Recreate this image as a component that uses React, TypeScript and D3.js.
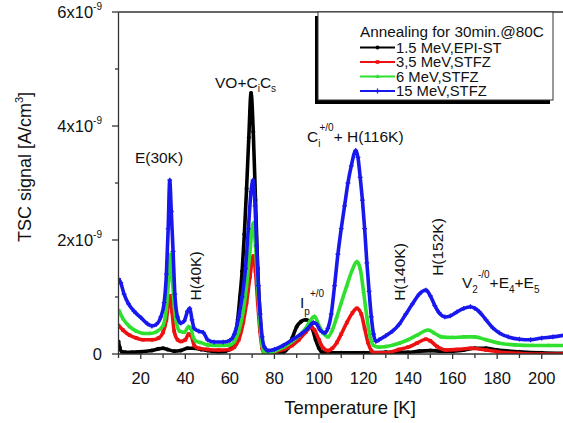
import React from "react";
import * as d3 from "d3";

const W = 563;
const H = 423;

const blackT = [10, 10.5, 11.5, 13, 16, 20, 25, 28, 30, 32, 35, 38, 41, 44, 47, 50, 55, 58, 60, 61.5, 62.5, 63.5, 64.5, 65.5, 66.5, 67.5, 68.5, 69.5, 70.5, 71.5, 72.5, 73.5, 74.5, 75.5, 77, 80, 84, 86, 88, 90, 92, 94, 95.5, 97, 98.5, 100, 101.5, 104, 110, 120, 130, 140, 145, 150, 155, 160, 165, 170, 175, 180, 190, 200, 210];
const blackV = [0.22, 0.12, 0.04, 0.03, 0.03, 0.04, 0.06, 0.09, 0.1, 0.08, 0.05, 0.06, 0.1, 0.1, 0.08, 0.06, 0.04, 0.05, 0.08, 0.15, 0.3, 0.6, 1.0, 1.45, 2.1, 2.9, 3.8, 4.58, 3.9, 2.7, 1.5, 0.7, 0.2, 0.03, 0.01, 0.01, 0.03, 0.1, 0.28, 0.48, 0.57, 0.6, 0.58, 0.45, 0.25, 0.1, 0.03, 0.02, 0.02, 0.02, 0.03, 0.03, 0.05, 0.06, 0.05, 0.05, 0.07, 0.1, 0.1, 0.07, 0.04, 0.02, 0.01];

const redT = [10, 12, 15, 18, 21, 25, 28, 30, 31.5, 32.5, 33.2, 34, 35, 36.5, 38, 40, 41.5, 42.5, 44, 46, 50, 55, 60, 62, 64, 66, 67.5, 69, 70.5, 71.5, 72.5, 73.5, 74.5, 75.5, 77, 80, 84, 88, 91, 94, 96.5, 98, 100, 102, 104, 106, 108, 110, 112.5, 115, 117, 119, 120.5, 122, 123.5, 125, 130, 136, 140, 144, 148, 150, 153, 157, 162, 168, 175, 180, 185, 190, 200, 210];
const redV = [0.5, 0.42, 0.33, 0.28, 0.25, 0.25, 0.28, 0.38, 0.6, 0.9, 1.02, 0.75, 0.4, 0.25, 0.22, 0.25, 0.35, 0.33, 0.15, 0.1, 0.08, 0.07, 0.08, 0.12, 0.25, 0.55, 0.9, 1.35, 1.72, 1.45, 0.9, 0.4, 0.1, 0.01, 0.0, 0.03, 0.08, 0.15, 0.25, 0.38, 0.47, 0.42, 0.25, 0.1, 0.06, 0.1, 0.2, 0.35, 0.55, 0.72, 0.8, 0.7, 0.45, 0.2, 0.06, 0.02, 0.02, 0.08, 0.12, 0.19, 0.26, 0.23, 0.13, 0.07, 0.08, 0.1, 0.07, 0.04, 0.02, 0.01, 0.0, 0.0];

const greenT = [10, 12, 15, 18, 21, 24, 27, 30, 31.5, 32.5, 33.3, 34.2, 35, 36, 37.5, 39.5, 41.5, 42.5, 43.5, 45, 47, 50, 55, 60, 62, 64, 66, 67.5, 69, 70.5, 71.5, 72.5, 73.5, 74.5, 75.5, 77, 80, 84, 88, 91, 94, 96, 98, 100, 102, 104, 106, 108, 110, 112.5, 115, 117, 118.5, 120, 121.5, 123, 124.5, 127, 130, 136, 140, 144, 149, 152, 155, 160, 165, 170, 175, 181, 188, 196, 203, 210];
const greenV = [0.78, 0.62, 0.48, 0.4, 0.36, 0.36, 0.39, 0.5, 0.8, 1.3, 1.75, 1.3, 0.85, 0.55, 0.4, 0.38, 0.48, 0.45, 0.3, 0.22, 0.2, 0.16, 0.15, 0.16, 0.22, 0.4, 0.75, 1.2, 1.8, 2.3, 1.9, 1.2, 0.55, 0.15, 0.03, 0.02, 0.05, 0.12, 0.22, 0.32, 0.45, 0.58, 0.66, 0.5, 0.36, 0.3, 0.42, 0.65, 0.9, 1.2, 1.48, 1.62, 1.5, 1.1, 0.65, 0.3, 0.15, 0.12, 0.13, 0.19, 0.25, 0.33, 0.42, 0.36, 0.3, 0.29, 0.3, 0.3, 0.25, 0.19, 0.16, 0.15, 0.15, 0.15];

const blueT = [10, 11, 12.5, 14.5, 17, 20, 23, 25, 27, 29, 30.5, 31.5, 32.3, 33, 33.7, 34.5, 35.3, 36.5, 38, 39.5, 41, 42, 43, 44, 46, 48, 50, 53, 57, 60, 62, 64, 65.5, 67, 68.3, 69.5, 70.4, 71.3, 72, 72.8, 73.6, 74.5, 75.5, 77, 80, 84, 88, 92, 95, 97.5, 99, 100.5, 102.5, 104, 105.5, 107, 108.5, 110, 111.5, 113, 114.5, 116.5, 117.5, 118.5, 119.5, 120.5, 121.5, 122.5, 123.5, 124.5, 125.5, 127, 130, 133, 136, 139, 142, 145, 148, 150, 152, 154, 156.5, 159, 162, 165, 168, 170, 172, 175, 178, 181, 185, 190, 195, 200, 205, 210];
const blueV = [1.32, 1.25, 1.05, 0.88, 0.75, 0.64, 0.53, 0.49, 0.52, 0.65, 0.9, 1.4, 2.2, 3.05, 2.5, 1.8, 1.05, 0.65, 0.54, 0.58, 0.75, 0.8, 0.6, 0.45, 0.4, 0.38, 0.25, 0.21, 0.21, 0.24, 0.35, 0.65, 1.0, 1.5, 2.2, 2.85, 3.05, 2.6, 1.9, 1.2, 0.7, 0.3, 0.12, 0.06, 0.08, 0.15, 0.25, 0.35, 0.45, 0.55, 0.52, 0.42, 0.37, 0.45, 0.7, 1.2, 1.75, 2.2, 2.6, 3.0, 3.3, 3.57, 3.45, 3.1, 2.7, 2.2, 1.6, 1.1, 0.65, 0.35, 0.22, 0.25, 0.32, 0.4, 0.52, 0.7, 0.88, 1.05, 1.12, 1.02, 0.85, 0.72, 0.65, 0.67, 0.74, 0.8, 0.83, 0.8, 0.74, 0.6, 0.46, 0.37, 0.3, 0.26, 0.25, 0.28, 0.3, 0.33];

const seriesNames = ["1.5 MeV,EPI-ST", "3,5 MeV,STFZ", "6 MeV,STFZ", "15 MeV,STFZ"];
const seriesColors = ["#000000", "#ee1111", "#2fe02f", "#1818ee"];

const xTicks = [20, 40, 60, 80, 100, 120, 140, 160, 180, 200];
const yTicks = [0, 2, 4, 6];

const FONT = "'Liberation Sans', Arial, Helvetica, sans-serif";

export default function App() {
  const x = d3.scaleLinear().domain([10, 210]).range([118.5, 564]);
  const y = d3.scaleLinear().domain([0, 6]).range([354, 12]);
  const line = d3
    .line<[number, number]>()
    .x((d) => x(d[0]))
    .y((d) => y(d[1]))
    .curve(d3.curveMonotoneX);

  const series = [
    { t: blackT, v: blackV },
    { t: redT, v: redV },
    { t: greenT, v: greenV },
    { t: blueT, v: blueV },
  ].map((s, i) => ({
    pts: s.t.map((t, j) => [t, s.v[j]] as [number, number]),
    color: seriesColors[i],
    name: seriesNames[i],
  }));

  const minorX = d3.range(10, 211, 10);
  const minorY = [1, 3, 5];

  const marker = (i: number, px: number, py: number, key: string | number, color: string) => {
    if (i === 0) return <circle key={key} cx={px} cy={py} r={2} fill={color} />;
    if (i === 1) return <rect key={key} x={px - 1.8} y={py - 1.8} width={3.6} height={3.6} fill={color} />;
    if (i === 2)
      return <path key={key} d={`M${px},${py - 2.4}L${px + 2.2},${py + 1.6}L${px - 2.2},${py + 1.6}Z`} fill={color} />;
    return (
      <path key={key} d={`M${px - 2.4},${py}H${px + 2.4}M${px},${py - 2.4}V${py + 2.4}`} stroke={color} strokeWidth={1.3} />
    );
  };

  const legX = 318;
  const legY = 12;
  const legW = 235;
  const legH = 88;

  return (
    <svg width={W} height={H} style={{ position: "absolute", left: 0, top: 0, background: "#fff" }} fontFamily={FONT}>
      <rect x={0} y={0} width={W} height={H} fill="#fff" />
      <defs>
        <clipPath id="plot">
          <rect x={118.5} y={0} width={W} height={354} />
        </clipPath>
      </defs>

      {/* data */}
      <g clipPath="url(#plot)">
        {series.map((s, i) => (
          <g key={i}>
            <path d={line(s.pts) || ""} fill="none" stroke={s.color} strokeWidth={3.6} strokeLinejoin="round" />
            {s.pts.map((p, j) => marker(i, x(p[0]), y(p[1]), j, s.color))}
          </g>
        ))}
      </g>

      {/* axes */}
      <g stroke="#333" strokeWidth={1.3} fill="none">
        <line x1={118.5} y1={12} x2={W} y2={12} />
        <line x1={118.5} y1={12} x2={118.5} y2={354.5} />
        <line x1={118.5} y1={354} x2={W} y2={354} />
        {minorX.map((t) => (
          <line key={"xt" + t} x1={x(t)} x2={x(t)} y1={354} y2={t % 20 === 0 ? 359 : 358} />
        ))}
        {yTicks.map((t) => (
          <line key={"yt" + t} x1={112} x2={118.5} y1={y(t)} y2={y(t)} />
        ))}
        {minorY.map((t) => (
          <line key={"ym" + t} x1={115} x2={118.5} y1={y(t)} y2={y(t)} />
        ))}
      </g>

      {xTicks.map((t) => (
        <text key={"xl" + t} x={x(t)} y={384} textAnchor="middle" fontSize={16.5} fill="#111">
          {t}
        </text>
      ))}
      {yTicks.map((t) =>
        t === 0 ? (
          <text key={"yl" + t} x={102} y={y(t) + 6} textAnchor="end" fontSize={16.5} fill="#111">
            0
          </text>
        ) : (
          <text key={"yl" + t} x={102} y={y(t) + 6} textAnchor="end" fontSize={16.5} fill="#111">
            {t}x10
            <tspan fontSize={10} dy={-8}>-9</tspan>
          </text>
        )
      )}

      <text x={350} y={414} textAnchor="middle" fontSize={18.5} fill="#111">
        Temperature [K]
      </text>
      <text transform="translate(31,167) rotate(-90)" textAnchor="middle" fontSize={18} fill="#111">
        TSC signal [A/cm
        <tspan fontSize={11} dy={-8}>3</tspan>
        <tspan dy={8}>]</tspan>
      </text>

      {/* annotations */}
      <g fontSize={15.5} fill="#111">
        <text x={159} y={163} textAnchor="middle">E(30K)</text>
        <text transform="translate(201,276) rotate(-90)" textAnchor="middle">H(40K)</text>
        <text x={215} y={88}>
          VO+C<tspan fontSize={10} dy={4}>i</tspan>
          <tspan dy={-4}>C</tspan>
          <tspan fontSize={10} dy={4}>s</tspan>
        </text>
        <text x={300} y={308}>
          I<tspan fontSize={10} dy={7}>p</tspan>
          <tspan fontSize={10} dy={-18}>+/0</tspan>
        </text>
        <text x={307} y={142}>
          C<tspan fontSize={10} dy={5}>i</tspan>
          <tspan fontSize={10} dx={-1} dy={-16}>+/0</tspan>
          <tspan dy={11}>+ H(116K)</tspan>
        </text>
        <text transform="translate(405,272) rotate(-90)" textAnchor="middle">H(140K)</text>
        <text transform="translate(443,247) rotate(-90)" textAnchor="middle">H(152K)</text>
        <text x={462} y={288}>
          V<tspan fontSize={10} dy={5}>2</tspan>
          <tspan fontSize={10} dy={-15}>-/0</tspan>
          <tspan dy={10}>+E</tspan>
          <tspan fontSize={10} dy={5}>4</tspan>
          <tspan dy={-5}>+E</tspan>
          <tspan fontSize={10} dy={5}>5</tspan>
        </text>
      </g>

      {/* legend */}
      <rect x={legX - 3} y={legY + 4} width={legW} height={legH} fill="#000" />
      <rect x={legX} y={legY} width={legW} height={legH} fill="#fff" stroke="#333" strokeWidth={1} />
      <text x={360} y={37} fontSize={15.3} fill="#111">
        Annealing for 30min.@80C
      </text>
      {series.map((s, i) => {
        const ly = 47.5 + i * 14.5;
        return (
          <g key={"lg" + i}>
            <line x1={360} x2={395} y1={ly} y2={ly} stroke={s.color} strokeWidth={2} />
            {marker(i, 377.5, ly, "m" + i, s.color)}
            <text x={396} y={ly + 5} fontSize={14.8} fill="#111">
              {s.name}
            </text>
          </g>
        );
      })}
    </svg>
  );
}
